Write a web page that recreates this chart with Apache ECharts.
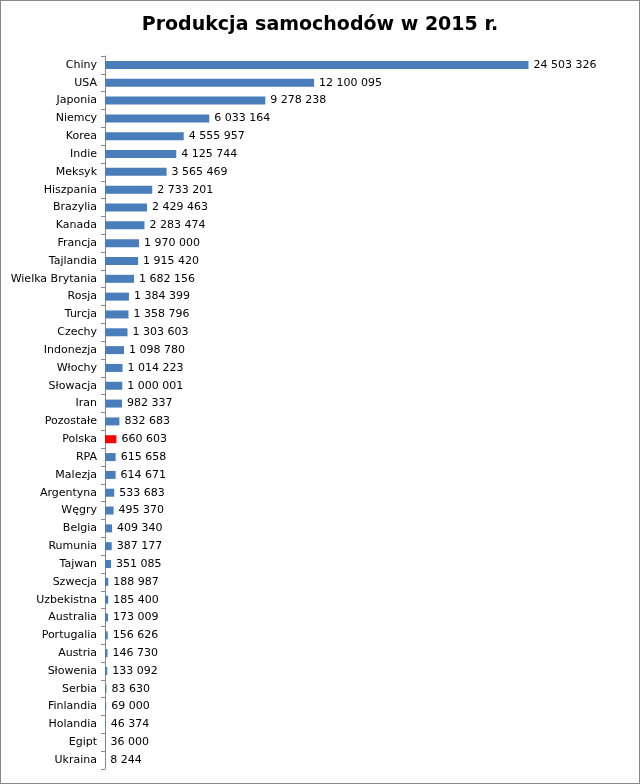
<!DOCTYPE html>
<html>
<head>
<meta charset="utf-8">
<script src="https://cdn.jsdelivr.net/npm/echarts@6/dist/echarts.min.js"></script>
<style>
  html, body { margin: 0; padding: 0; background: #fff; }
  #chart { width: 638px; height: 782px; border: 1px solid #888; }
</style>
</head>
<body>
<div id="chart"></div>
<script>
// kraje, od największego producenta
let countries = ["Chiny", "USA", "Japonia", "Niemcy", "Korea", "Indie", "Meksyk", "Hiszpania",
  "Brazylia", "Kanada", "Francja", "Tajlandia", "Wielka Brytania", "Rosja", "Turcja", "Czechy",
  "Indonezja", "Włochy", "Słowacja", "Iran", "Pozostałe", "Polska", "RPA", "Malezja", "Argentyna",
  "Węgry", "Belgia", "Rumunia", "Tajwan", "Szwecja", "Uzbekistna", "Australia", "Portugalia",
  "Austria", "Słowenia", "Serbia", "Finlandia", "Holandia", "Egipt", "Ukraina"];
let production = [24503326, 12100095, 9278238, 6033164, 4555957, 4125744, 3565469, 2733201,
  2429463, 2283474, 1970000, 1915420, 1682156, 1384399, 1358796, 1303603,
  1098780, 1014223, 1000001, 982337, 832683, 660603, 615658, 614671, 533683,
  495370, 409340, 387177, 351085, 188987, 185400, 173009, 156626,
  146730, 133092, 83630, 69000, 46374, 36000, 8244];
let highlight = "Polska";

let chart = echarts.init(document.getElementById("chart"));

function fmt(v) {
  return String(v).replace(/\B(?=(\d{3})+(?!\d))/g, " ");
}

let option = {
  animation: false,
  title: {
    text: "Produkcja samochodów w 2015 r.",
    left: "center",
    top: 10,
    textStyle: { fontFamily: "DejaVu Sans", fontSize: 19, fontWeight: "bold", color: "#000" }
  },
  grid: { left: 104, right: 38, top: 55, bottom: 14 },
  xAxis: {
    type: "value",
    min: 0,
    max: 28700000,
    show: false
  },
  yAxis: {
    type: "category",
    inverse: true,
    data: countries,
    axisLine: { lineStyle: { color: "#888" } },
    axisTick: { show: true, length: 4, lineStyle: { color: "#888" } },
    axisLabel: { color: "#000", fontFamily: "DejaVu Sans", fontSize: 11, margin: 8 }
  },
  series: [{
    type: "bar",
    barWidth: 8,
    data: production.map((v, i) => ({
      value: v,
      itemStyle: { color: countries[i] === highlight ? "#ff0000" : "#4a7ebb" }
    })),
    label: {
      show: true,
      position: "right",
      distance: 5,
      color: "#000",
      fontFamily: "DejaVu Sans",
      fontSize: 11,
      formatter: p => fmt(p.value)
    }
  }]
};

chart.setOption(option, true);
</script>
</body>
</html>
